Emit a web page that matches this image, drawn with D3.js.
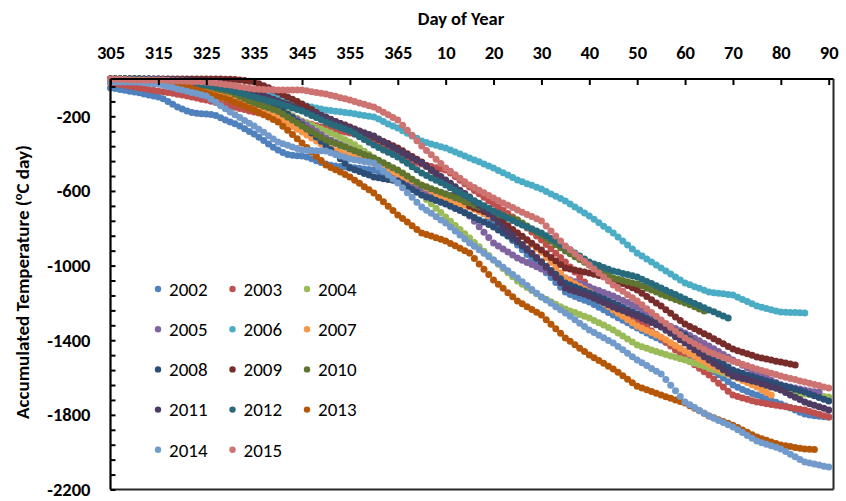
<!DOCTYPE html>
<html>
<head>
<meta charset="utf-8">
<script src="https://cdn.jsdelivr.net/npm/d3@7"></script>
<style>
  body { margin: 0; background: #fff; }
  svg { display: block; }
  text { fill: #000; }
</style>
</head>
<body>
<svg id="chart" width="846" height="501"></svg>
<script>
// Accumulated temperature (°C day) per winter season, one value per day from day 305.
const firstDay = 305;

const years = ["2002", "2003", "2004", "2005", "2006", "2007", "2008",
               "2009", "2010", "2011", "2012", "2013", "2014", "2015"];

const colors = ["#4F81BD", "#C0504D", "#9BBB59", "#8064A2", "#4BACC6", "#F79646", "#2C4D75",
                "#772C2A", "#5F7530", "#4D3B62", "#276A7C", "#B65708", "#729ACA", "#CD7371"];

const s2002 = [-48,-51,-56,-60,-65,-70,-74,-80,-86,-91,-96,-106,-120,-135,-150,-161,-172,-180,-184,-186,
  -188,-190,-196,-208,-220,-230,-240,-252,-266,-281,-295,-312,-330,-348,-366,-381,-394,-404,-409,-411,
  -413,-418,-428,-438,-447,-456,-462,-466,-469,-471,-472,-475,-478,-482,-485,-488,-496,-508,-519,-530,
  -541,-550,-560,-569,-577,-584,-591,-598,-604,-610,-616,-624,-634,-645,-655,-665,-681,-701,-722,-744,
  -766,-790,-815,-840,-865,-890,-915,-940,-964,-989,-1013,-1038,-1064,-1090,-1116,-1142,-1155,-1166,-1176,-1186,
  -1195,-1208,-1223,-1237,-1251,-1265,-1279,-1293,-1307,-1321,-1335,-1348,-1361,-1374,-1387,-1399,-1412,-1425,-1438,-1451,
  -1463,-1478,-1495,-1513,-1531,-1549,-1567,-1585,-1603,-1622,-1640,-1652,-1664,-1675,-1685,-1694,-1703,-1713,-1723,-1733,
  -1742,-1752,-1763,-1774,-1786,-1796,-1801,-1805,-1808,-1810,-1812];

const s2003 = [-21,-25,-30,-34,-38,-43,-47,-51,-56,-60,-64,-68,-73,-77,-82,-86,-91,-97,-102,-108,
  -113,-119,-126,-132,-139,-145,-151,-158,-164,-171,-177,-182,-188,-193,-199,-204,-209,-215,-220,-225,
  -230,-236,-243,-250,-257,-263,-268,-274,-279,-284,-289,-296,-304,-312,-320,-327,-341,-358,-375,-391,
  -407,-418,-428,-438,-447,-456,-462,-469,-476,-482,-488,-504,-523,-542,-561,-579,-597,-615,-634,-652,
  -670,-687,-704,-721,-739,-756,-777,-799,-820,-842,-863,-887,-910,-934,-957,-981,-1008,-1035,-1061,-1088,
  -1115,-1134,-1154,-1173,-1192,-1211,-1227,-1243,-1260,-1276,-1292,-1311,-1330,-1350,-1369,-1388,-1409,-1431,-1452,-1474,
  -1495,-1513,-1532,-1550,-1569,-1587,-1608,-1630,-1651,-1673,-1694,-1702,-1709,-1716,-1724,-1731,-1735,-1740,-1744,-1749,
  -1753,-1757,-1761,-1766,-1770,-1774,-1782,-1790,-1797,-1805,-1812];

const s2004 = [0,0,0,0,0,0,0,-1,-2,-3,-5,-6,-7,-8,-10,-11,-13,-15,-17,-19,
  -21,-25,-31,-37,-42,-48,-56,-65,-74,-82,-91,-103,-116,-129,-142,-155,-169,-183,-197,-211,
  -225,-236,-247,-258,-268,-279,-290,-302,-314,-326,-338,-353,-370,-387,-405,-423,-441,-460,-478,-497,
  -515,-536,-558,-579,-601,-622,-646,-669,-693,-716,-740,-762,-785,-807,-830,-852,-876,-899,-923,-946,
  -970,-993,-1015,-1038,-1060,-1083,-1100,-1117,-1134,-1151,-1168,-1181,-1194,-1207,-1220,-1233,-1243,-1252,-1262,-1271,
  -1281,-1294,-1307,-1319,-1332,-1345,-1361,-1377,-1394,-1410,-1426,-1435,-1443,-1452,-1460,-1469,-1476,-1484,-1491,-1499,
  -1506,-1515,-1523,-1532,-1540,-1549,-1558,-1566,-1575,-1583,-1592,-1599,-1607,-1614,-1622,-1629,-1636,-1642,-1649,-1655,
  -1662,-1667,-1672,-1678,-1683,-1688,-1691,-1695,-1698,-1701,-1704];

const s2005 = [0,0,-1,-2,-3,-5,-7,-9,-11,-13,-16,-19,-22,-26,-29,-32,-35,-38,-42,-45,
  -48,-53,-59,-64,-70,-75,-83,-90,-98,-105,-113,-123,-134,-145,-155,-166,-179,-192,-204,-217,
  -230,-247,-264,-282,-299,-316,-328,-340,-351,-363,-375,-390,-405,-420,-435,-450,-465,-480,-495,-510,
  -525,-537,-549,-560,-572,-584,-597,-610,-623,-636,-649,-666,-683,-700,-717,-734,-763,-792,-821,-850,
  -879,-895,-911,-927,-943,-959,-971,-983,-994,-1006,-1018,-1028,-1038,-1047,-1057,-1067,-1077,-1086,-1096,-1105,
  -1115,-1125,-1134,-1144,-1153,-1163,-1175,-1187,-1198,-1210,-1222,-1238,-1254,-1270,-1286,-1302,-1314,-1326,-1337,-1349,
  -1361,-1375,-1389,-1403,-1417,-1431,-1446,-1461,-1476,-1491,-1506,-1520,-1534,-1548,-1562,-1576,-1589,-1602,-1614,-1627,
  -1640,-1645,-1651,-1656,-1662,-1667,-1672,-1676,-1678];

const s2006 = [0,0,0,0,0,0,0,-1,-2,-3,-5,-6,-7,-9,-10,-11,-13,-15,-17,-19,
  -21,-24,-28,-31,-35,-38,-43,-48,-54,-59,-64,-70,-77,-83,-90,-96,-105,-113,-122,-130,
  -139,-145,-150,-156,-161,-166,-169,-173,-176,-179,-182,-186,-191,-195,-200,-204,-214,-228,-241,-252,
  -263,-277,-291,-305,-318,-332,-340,-348,-355,-363,-370,-381,-391,-402,-412,-423,-434,-444,-455,-466,
  -477,-490,-503,-515,-528,-541,-551,-561,-570,-580,-590,-603,-616,-628,-641,-654,-670,-686,-702,-718,
  -734,-752,-770,-789,-807,-825,-847,-868,-890,-911,-933,-949,-965,-981,-997,-1013,-1029,-1045,-1061,-1077,
  -1093,-1103,-1113,-1122,-1132,-1142,-1145,-1148,-1151,-1155,-1158,-1170,-1182,-1193,-1205,-1217,-1223,-1230,-1236,-1243,
  -1249,-1250,-1251,-1252,-1253,-1254];

const s2007 = [0,0,0,0,0,0,0,-1,-2,-3,-5,-7,-9,-12,-14,-16,-22,-29,-35,-42,
  -48,-57,-65,-74,-82,-91,-104,-117,-129,-142,-155,-166,-177,-187,-198,-209,-224,-239,-254,-269,
  -284,-300,-316,-332,-348,-364,-374,-384,-393,-403,-413,-420,-428,-435,-443,-450,-462,-474,-485,-497,
  -509,-521,-533,-544,-556,-568,-583,-598,-613,-628,-643,-652,-660,-669,-677,-686,-698,-710,-721,-733,
  -745,-761,-777,-794,-810,-826,-846,-867,-887,-908,-928,-956,-984,-1011,-1039,-1067,-1082,-1097,-1112,-1127,
  -1142,-1161,-1180,-1200,-1219,-1238,-1255,-1272,-1290,-1307,-1324,-1336,-1348,-1359,-1371,-1383,-1398,-1413,-1428,-1443,
  -1458,-1472,-1486,-1500,-1514,-1528,-1541,-1554,-1566,-1579,-1592,-1604,-1616,-1627,-1639,-1651,-1665,-1680,-1694];

const s2008 = [0,0,0,0,0,0,0,-1,-2,-3,-5,-6,-7,-9,-10,-11,-14,-17,-21,-24,
  -27,-32,-38,-43,-49,-54,-62,-71,-79,-88,-96,-107,-118,-128,-139,-150,-169,-189,-208,-228,
  -247,-268,-290,-311,-333,-354,-379,-403,-428,-452,-477,-487,-496,-506,-515,-525,-529,-534,-538,-543,
  -547,-562,-577,-592,-607,-622,-632,-641,-651,-660,-670,-682,-694,-705,-717,-729,-742,-755,-767,-780,
  -793,-809,-825,-842,-858,-874,-895,-917,-938,-960,-981,-1003,-1026,-1048,-1071,-1093,-1104,-1115,-1125,-1136,
  -1147,-1158,-1169,-1179,-1190,-1201,-1213,-1225,-1236,-1248,-1260,-1272,-1284,-1295,-1307,-1319,-1330,-1340,-1351,-1361,
  -1372,-1393,-1415,-1436,-1458,-1479,-1495,-1511,-1528,-1544,-1560,-1569,-1577,-1586,-1594,-1603,-1610,-1618,-1625,-1633,
  -1640,-1648,-1655,-1663,-1670,-1678,-1688,-1697,-1707,-1716,-1726];

const s2009 = [0,0,0,0,0,0,0,0,0,0,0,0,0,0,0,0,0,0,0,0,
  0,0,0,0,-1,-2,-3,-5,-8,-12,-16,-25,-36,-47,-59,-70,-83,-96,-108,-121,
  -134,-149,-164,-179,-194,-209,-219,-228,-238,-247,-257,-268,-279,-289,-300,-311,-323,-335,-346,-358,
  -370,-385,-400,-415,-430,-445,-467,-490,-512,-535,-557,-582,-607,-631,-656,-681,-691,-700,-710,-719,
  -729,-748,-767,-787,-806,-825,-843,-862,-880,-899,-917,-936,-956,-975,-994,-1013,-1018,-1024,-1029,-1035,
  -1040,-1046,-1053,-1059,-1066,-1072,-1084,-1096,-1107,-1119,-1131,-1148,-1165,-1183,-1200,-1217,-1236,-1255,-1275,-1294,
  -1313,-1326,-1339,-1352,-1365,-1378,-1392,-1406,-1419,-1433,-1447,-1456,-1464,-1473,-1481,-1490,-1495,-1501,-1506,-1512,
  -1517,-1522,-1528,-1533];

const s2010 = [0,0,0,0,0,0,0,-1,-2,-3,-5,-7,-9,-12,-14,-16,-20,-25,-29,-34,
  -38,-44,-51,-57,-64,-70,-82,-94,-105,-117,-129,-137,-146,-154,-163,-171,-187,-203,-220,-236,
  -252,-267,-282,-297,-312,-327,-337,-346,-356,-365,-375,-385,-394,-404,-413,-423,-436,-449,-462,-475,
  -488,-504,-520,-537,-553,-569,-578,-588,-597,-607,-616,-626,-636,-645,-655,-665,-676,-686,-697,-707,
  -718,-726,-733,-741,-748,-756,-772,-788,-804,-820,-836,-853,-870,-888,-905,-922,-937,-952,-967,-982,
  -997,-1011,-1025,-1039,-1053,-1067,-1073,-1080,-1086,-1093,-1099,-1110,-1121,-1131,-1142,-1153,-1163,-1172,-1182,-1191,
  -1201,-1210,-1220,-1232,-1244];

const s2011 = [0,0,0,0,0,0,0,0,0,0,0,-1,-2,-3,-4,-5,-6,-7,-9,-10,
  -11,-15,-19,-24,-28,-32,-40,-47,-55,-62,-70,-80,-89,-99,-108,-118,-128,-137,-147,-156,
  -166,-174,-181,-189,-196,-204,-216,-228,-239,-251,-263,-272,-280,-289,-297,-306,-321,-336,-351,-366,
  -381,-395,-409,-422,-436,-450,-468,-486,-505,-523,-541,-559,-577,-596,-614,-632,-655,-677,-700,-722,
  -745,-769,-792,-816,-839,-863,-887,-910,-934,-957,-981,-1009,-1037,-1064,-1092,-1120,-1129,-1137,-1146,-1154,
  -1163,-1175,-1187,-1198,-1210,-1222,-1232,-1241,-1251,-1260,-1270,-1282,-1294,-1305,-1317,-1329,-1346,-1363,-1381,-1398,
  -1415,-1433,-1451,-1470,-1488,-1506,-1523,-1540,-1558,-1575,-1592,-1598,-1605,-1611,-1618,-1624,-1633,-1641,-1650,-1658,
  -1667,-1680,-1693,-1705,-1718,-1731,-1740,-1748,-1757,-1765,-1774];

const s2012 = [0,0,0,0,0,0,0,-1,-2,-3,-5,-7,-9,-12,-14,-16,-19,-22,-26,-29,
  -32,-37,-43,-48,-54,-59,-67,-74,-82,-89,-97,-103,-110,-116,-123,-129,-138,-146,-155,-163,
  -172,-184,-196,-207,-219,-231,-241,-250,-260,-269,-279,-294,-309,-324,-339,-354,-367,-380,-392,-405,
  -418,-435,-452,-470,-487,-504,-517,-530,-542,-555,-568,-582,-596,-610,-624,-638,-652,-666,-679,-693,
  -707,-720,-733,-746,-759,-772,-783,-793,-804,-814,-825,-840,-855,-870,-885,-900,-916,-932,-949,-965,
  -981,-991,-1000,-1010,-1019,-1029,-1035,-1042,-1048,-1055,-1061,-1073,-1085,-1096,-1108,-1120,-1132,-1144,-1155,-1167,
  -1179,-1191,-1203,-1214,-1226,-1238,-1248,-1259,-1270,-1281];

const s2013 = [-5,-6,-7,-9,-10,-11,-13,-15,-17,-19,-21,-23,-25,-28,-30,-32,-41,-49,-58,-66,
  -75,-83,-90,-98,-105,-113,-124,-134,-145,-155,-166,-179,-192,-204,-217,-230,-253,-275,-298,-320,
  -343,-367,-390,-414,-437,-461,-474,-487,-499,-512,-525,-542,-559,-577,-594,-611,-635,-658,-682,-705,
  -729,-748,-767,-787,-806,-825,-834,-842,-851,-859,-868,-881,-894,-907,-920,-933,-962,-991,-1019,-1048,
  -1077,-1100,-1122,-1145,-1167,-1190,-1205,-1220,-1235,-1250,-1265,-1290,-1314,-1339,-1363,-1388,-1406,-1424,-1443,-1461,
  -1479,-1494,-1509,-1524,-1539,-1554,-1572,-1591,-1609,-1628,-1646,-1656,-1665,-1675,-1684,-1694,-1703,-1711,-1720,-1728,
  -1737,-1751,-1765,-1778,-1792,-1806,-1816,-1826,-1835,-1845,-1855,-1868,-1881,-1893,-1906,-1919,-1928,-1936,-1945,-1953,
  -1962,-1966,-1970,-1975,-1979,-1983,-1984,-1985];

const s2014 = [-16,-16,-16,-16,-16,-16,-18,-20,-23,-25,-27,-33,-40,-46,-53,-59,-65,-72,-78,-85,
  -91,-108,-125,-143,-160,-177,-192,-207,-222,-237,-252,-269,-286,-304,-321,-338,-347,-355,-364,-372,
  -381,-382,-383,-384,-385,-386,-395,-403,-412,-420,-429,-433,-437,-442,-446,-450,-471,-493,-514,-536,
  -557,-583,-609,-634,-660,-686,-703,-720,-738,-755,-772,-793,-815,-836,-858,-879,-897,-915,-934,-952,
  -970,-989,-1009,-1028,-1048,-1067,-1087,-1107,-1128,-1148,-1168,-1185,-1202,-1220,-1237,-1254,-1272,-1290,-1309,-1327,
  -1345,-1359,-1373,-1387,-1401,-1415,-1433,-1451,-1470,-1488,-1506,-1521,-1536,-1551,-1566,-1581,-1611,-1641,-1671,-1701,
  -1731,-1746,-1761,-1776,-1791,-1806,-1818,-1830,-1841,-1853,-1865,-1880,-1895,-1910,-1925,-1940,-1949,-1957,-1966,-1974,
  -1983,-1997,-2011,-2025,-2039,-2053,-2058,-2064,-2069,-2075,-2080];

const s2015 = [0,-1,-2,-3,-4,-5,-5,-5,-5,-5,-5,-6,-7,-9,-10,-11,-12,-13,-14,-15,
  -16,-19,-22,-26,-29,-32,-36,-41,-45,-50,-54,-55,-56,-57,-58,-59,-59,-59,-59,-59,
  -59,-63,-68,-72,-76,-80,-87,-93,-100,-106,-113,-120,-128,-135,-143,-150,-164,-178,-192,-206,
  -220,-248,-275,-302,-331,-359,-383,-406,-430,-453,-477,-495,-513,-532,-550,-568,-582,-596,-610,-624,
  -638,-651,-664,-676,-689,-702,-714,-726,-737,-749,-761,-788,-815,-841,-868,-895,-915,-936,-956,-977,
  -997,-1018,-1040,-1061,-1083,-1104,-1121,-1138,-1156,-1173,-1190,-1210,-1231,-1251,-1272,-1292,-1311,-1330,-1350,-1369,
  -1388,-1403,-1418,-1433,-1448,-1463,-1473,-1483,-1492,-1502,-1512,-1520,-1529,-1537,-1546,-1554,-1562,-1569,-1577,-1584,
  -1592,-1598,-1605,-1611,-1618,-1624,-1630,-1637,-1643,-1650,-1656];

const seriesValues = [s2002, s2003, s2004, s2005, s2006, s2007, s2008,
                      s2009, s2010, s2011, s2012, s2013, s2014, s2015];

// Axis ticks: day numbers run on past 365 into the new year.
const xTickDays = [305, 315, 325, 335, 345, 355, 365, 375, 385, 395, 405, 415, 425, 435, 445, 455];
const xTickLabels = ["305", "315", "325", "335", "345", "355", "365", "10", "20", "30", "40", "50", "60", "70", "80", "90"];
const yLabelTicks = [-200, -600, -1000, -1400, -1800, -2200];
const yMinorStep = 80;

const svg = d3.select("#chart");
const font = "Carlito, Calibri, Lato, 'Open Sans', sans-serif";

const plotLeft = 110.5, plotRight = 833.5, plotTop = 79, plotBottom = 489.5;
const x = d3.scaleLinear().domain([305, 456]).range([plotLeft, plotRight]);
const y = d3.scaleLinear().domain([-2200, 0]).range([plotBottom, plotTop]);

// Data markers, drawn oldest season first
const groups = svg.append("g").attr("class", "series")
  .selectAll("g")
  .data(seriesValues.map((vals, k) => ({ year: years[k], color: colors[k], vals })))
  .join("g")
  .attr("fill", d => d.color);

groups.selectAll("circle")
  .data(d => d.vals.map((v, i) => ({ day: firstDay + i, v })))
  .join("circle")
  .attr("cx", d => x(d.day))
  .attr("cy", d => y(d.v))
  .attr("r", 3.5);

// Frame: right and bottom edges
svg.append("line").attr("x1", plotRight).attr("x2", plotRight).attr("y1", plotTop).attr("y2", plotBottom)
  .attr("stroke", "#262626").attr("stroke-width", 2);
svg.append("line").attr("x1", plotLeft).attr("x2", plotRight).attr("y1", plotBottom).attr("y2", plotBottom)
  .attr("stroke", "#262626").attr("stroke-width", 2);

// Top x axis with inward ticks
const xLabelOf = new Map(xTickDays.map((d, i) => [d, xTickLabels[i]]));
const xAxis = d3.axisTop(x).tickValues(xTickDays).tickSize(-6).tickPadding(20)
  .tickFormat(d => xLabelOf.get(d));
const gx = svg.append("g").attr("transform", `translate(0,${plotTop})`).call(xAxis);
gx.select(".domain").attr("d", `M${plotLeft},0H${plotRight}`).attr("stroke", "#000").attr("stroke-width", 2.2);
gx.selectAll(".tick line").attr("stroke", "#000").attr("stroke-width", 2);
gx.selectAll(".tick text")
  .attr("font-family", font).attr("font-size", 18.5).attr("font-weight", "bold").attr("fill", "#000");

// Left y axis with inward minor ticks every 80
const yTickValues = d3.range(-2200, 0, yMinorStep);
const yAxis = d3.axisLeft(y).tickValues(yTickValues).tickSize(-5).tickPadding(20)
  .tickFormat(d => yLabelTicks.includes(d) ? String(d) : "");
const gy = svg.append("g").attr("transform", `translate(${plotLeft},0)`).call(yAxis);
gy.select(".domain").attr("d", `M0,${plotTop}V${plotBottom}`).attr("stroke", "#000").attr("stroke-width", 2.2);
gy.selectAll(".tick line").attr("stroke", "#000").attr("stroke-width", 2);
gy.selectAll(".tick text")
  .attr("font-family", font).attr("font-size", 18.5).attr("font-weight", "bold").attr("fill", "#000");

// Axis titles
svg.append("text")
  .attr("x", 461).attr("y", 25)
  .attr("text-anchor", "middle")
  .attr("font-family", font).attr("font-size", 18.5).attr("font-weight", "bold")
  .text("Day of Year");

const yTitle = svg.append("text")
  .attr("transform", "translate(29,282) rotate(-90)")
  .attr("text-anchor", "middle")
  .attr("font-family", font).attr("font-size", 19).attr("font-weight", "bold");
yTitle.append("tspan").text("Accumulated Temperature (");
yTitle.append("tspan").attr("font-size", 12.5).attr("dy", -7).text("o");
yTitle.append("tspan").attr("dy", 7).text("C day)");

// Legend: three columns
const legend = svg.append("g").attr("class", "legend");
const legendItems = legend.selectAll("g")
  .data(years.map((yr, k) => ({ yr, color: colors[k], col: k % 3, row: Math.floor(k / 3) })))
  .join("g")
  .attr("transform", d => `translate(${158 + d.col * 74.5},${289 + d.row * 40.2})`);
legendItems.append("circle").attr("r", 3.2).attr("fill", d => d.color);
legendItems.append("text")
  .attr("x", 11).attr("dy", "0.36em")
  .attr("font-family", font).attr("font-size", 19)
  .text(d => d.yr);
</script>
</body>
</html>
